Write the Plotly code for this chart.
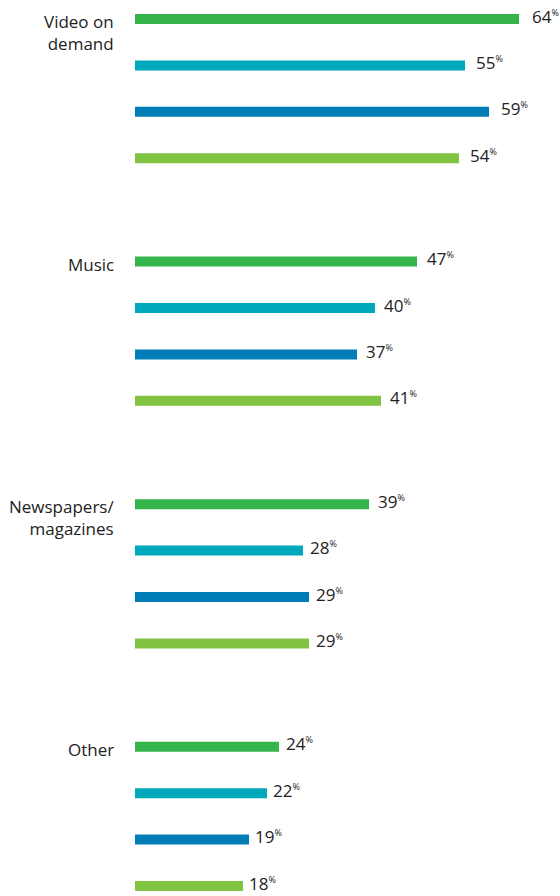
import plotly.graph_objects as go

# Survey results: share of respondents per content category, four series
categories = ["Video on<br>demand", "Music", "Newspapers/<br>magazines", "Other"]
series_names = ["Series 1", "Series 2", "Series 3", "Series 4"]
series_values = [
    [64, 47, 39, 24],
    [55, 40, 28, 22],
    [59, 37, 29, 19],
    [54, 41, 29, 18],
]
series_colors = ["#35B44B", "#00A8BB", "#007DB6", "#80C242"]

W, H = 560, 896
LEFT = 135            # plot area starts here (px)
PX_PER_PCT = 6.0      # horizontal scale
GROUP_PERIOD = 5.23   # slots per group, incl. gap between groups
BAR_W = 0.216         # bar thickness in slot units
FONT = "Open Sans"
TEXT = "#222222"

n_series = len(series_values)
n_groups = len(categories)

def slot(g, j):
    return g * GROUP_PERIOD + j

last = slot(n_groups - 1, n_series - 1)
px_per_slot = (886 - 19) / last
y_top = -19 / px_per_slot
y_bottom = last + (H - 886) / px_per_slot

fig = go.Figure()
annotations = []
for j, (name, vals, col) in enumerate(zip(series_names, series_values, series_colors)):
    ys = [slot(g, j) for g in range(n_groups)]
    fig.add_trace(go.Bar(
        x=vals, y=ys, orientation="h", name=name,
        marker=dict(color=col, line=dict(width=0)),
        width=BAR_W, hoverinfo="skip",
    ))
    for v, yy in zip(vals, ys):
        annotations.append(dict(
            x=v * 1.025, y=yy, xref="x", yref="y",
            xanchor="left", yanchor="middle", xshift=1, yshift=3,
            text=f"{v}<sup><span style='font-size:9px'>%</span></sup>",
            showarrow=False,
            font=dict(family=FONT, size=17, color=TEXT),
        ))

for g, cat in enumerate(categories):
    annotations.append(dict(
        x=0, y=slot(g, 0), xref="paper", yref="y",
        xanchor="right", yanchor="top", xshift=-19, yshift=11,
        text=cat, align="right", showarrow=False,
        font=dict(family=FONT, size=17, color=TEXT),
    ))

plot_w = W - LEFT
fig.update_layout(
    width=W, height=H,
    margin=dict(l=LEFT, r=0, t=0, b=0),
    paper_bgcolor="white", plot_bgcolor="white",
    showlegend=False, barmode="overlay",
    xaxis=dict(range=[0, plot_w / PX_PER_PCT], visible=False, fixedrange=True),
    yaxis=dict(range=[y_bottom, y_top], visible=False, fixedrange=True),
    annotations=annotations,
    font=dict(family=FONT, color=TEXT),
)

fig.write_html("out.html")
